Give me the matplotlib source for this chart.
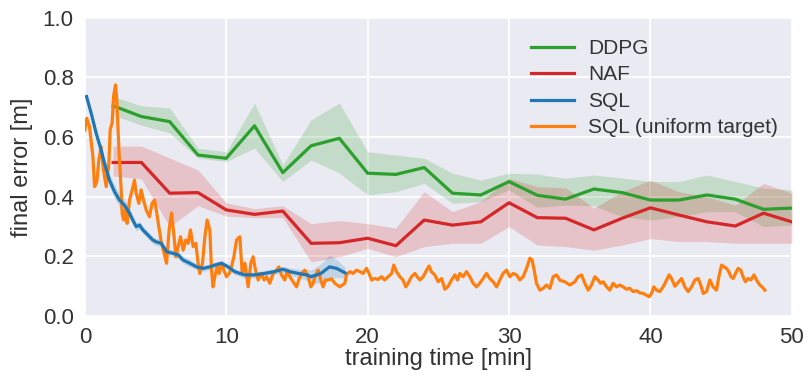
import matplotlib
matplotlib.use("Agg")
import matplotlib.pyplot as plt
import numpy as np

# ---------------- data ----------------
band_x = [2, 4, 6, 8, 10, 12, 14, 16, 18, 20, 22, 24, 26, 28, 30, 32, 34, 36, 38, 40, 42, 44, 46, 48, 50]

ddpg_mean = [0.705, 0.669, 0.652, 0.540, 0.529, 0.638, 0.481, 0.571, 0.596, 0.479, 0.475, 0.498, 0.412,
             0.406, 0.451, 0.405, 0.392, 0.426, 0.414, 0.389, 0.389, 0.406, 0.392, 0.358, 0.362]
ddpg_upper = [0.736, 0.705, 0.698, 0.563, 0.551, 0.714, 0.507, 0.658, 0.714, 0.551, 0.540, 0.529, 0.479,
              0.456, 0.479, 0.476, 0.462, 0.473, 0.463, 0.451, 0.451, 0.473, 0.451, 0.429, 0.423]
ddpg_lower = [0.674, 0.640, 0.614, 0.530, 0.518, 0.563, 0.451, 0.523, 0.480, 0.406, 0.417, 0.445, 0.378,
              0.383, 0.423, 0.365, 0.372, 0.370, 0.333, 0.322, 0.333, 0.350, 0.350, 0.300, 0.305]

naf_mean = [0.515, 0.515, 0.412, 0.414, 0.356, 0.341, 0.352, 0.244, 0.246, 0.261, 0.236, 0.322, 0.305,
            0.316, 0.380, 0.330, 0.328, 0.289, 0.328, 0.363, 0.339, 0.316, 0.302, 0.345, 0.316]
naf_upper = [0.570, 0.570, 0.530, 0.490, 0.380, 0.360, 0.370, 0.310, 0.320, 0.310, 0.295, 0.417, 0.350,
             0.384, 0.462, 0.434, 0.430, 0.362, 0.417, 0.456, 0.417, 0.400, 0.372, 0.445, 0.412]
naf_lower = [0.470, 0.460, 0.300, 0.370, 0.335, 0.330, 0.330, 0.182, 0.199, 0.227, 0.199, 0.233, 0.244,
             0.244, 0.300, 0.238, 0.233, 0.221, 0.238, 0.260, 0.250, 0.250, 0.244, 0.244, 0.244]

sql_x = [0.12, 0.45, 0.8, 1.15, 1.39, 1.74, 2.1, 2.45, 2.8, 3.16, 3.39, 3.63, 3.87, 4.1, 4.46, 4.81, 5.04,
         5.4, 5.78, 6.25, 6.6, 6.95, 7.43, 7.9, 8.37, 8.84, 9.19, 9.67, 10.13, 10.6, 10.96, 11.3, 12.0,
         12.7, 13.4, 14.0, 14.5, 15.1, 15.7, 16.0, 16.7, 17.3, 17.8, 18.4]
sql_mean = [0.736, 0.680, 0.613, 0.557, 0.512, 0.456, 0.417, 0.389, 0.372, 0.345, 0.322, 0.300, 0.305,
            0.289, 0.272, 0.255, 0.249, 0.244, 0.216, 0.210, 0.205, 0.188, 0.177, 0.165, 0.160, 0.165,
            0.171, 0.177, 0.165, 0.149, 0.143, 0.138, 0.138, 0.143, 0.149, 0.157, 0.149, 0.143, 0.138,
            0.132, 0.143, 0.165, 0.160, 0.145]
sql_spread = [0.010, 0.012, 0.015, 0.015, 0.018, 0.020, 0.022, 0.022, 0.020, 0.018, 0.015, 0.014, 0.012,
              0.012, 0.012, 0.012, 0.012, 0.012, 0.012, 0.012, 0.012, 0.012, 0.012, 0.010, 0.010, 0.010,
              0.010, 0.010, 0.010, 0.010, 0.010, 0.010, 0.010, 0.010, 0.010, 0.010, 0.012, 0.014, 0.018,
              0.022, 0.032, 0.040, 0.030, 0.018]

sqlu_x = [0.0, 0.14, 0.33, 0.57, 0.69, 0.85, 0.99, 1.15, 1.32, 1.51, 1.70, 1.79, 1.93, 2.03, 2.17, 2.26,
          2.40, 2.57, 2.64, 2.74, 2.88, 2.99, 3.16, 3.35, 3.51, 3.63, 3.82, 3.98, 4.15, 4.34, 4.57, 4.76,
          4.93, 5.09, 5.23, 5.40, 5.66, 5.78, 5.96, 6.13, 6.29, 6.44, 6.60, 6.77, 6.95, 7.14, 7.31, 7.47,
          7.66, 7.85, 8.01, 8.13, 8.32, 8.49, 8.65, 8.84, 8.96, 9.07, 9.19, 9.36, 9.50, 9.67, 9.83, 10.02,
          10.21, 10.37, 10.54, 10.73, 10.96, 11.13, 11.32, 11.55, 11.74, 11.9, 12.07, 12.26, 12.45, 12.68,
          12.85, 13.08, 13.32, 13.56, 13.72, 13.91, 14.14, 14.33, 14.5, 14.73, 14.97, 15.13, 15.33, 15.56,
          15.79, 15.98, 16.15, 16.27, 16.5, 16.69, 16.85, 17.02, 17.2, 17.45, 17.68, 18.03, 18.39, 18.5,
          18.74, 18.97, 19.2, 19.45, 19.68, 19.92, 20.1, 20.28, 20.5, 20.74, 20.98, 21.2, 21.45, 21.7,
          21.85, 22.04, 22.28, 22.5, 22.7, 22.86, 23.1, 23.34, 23.5, 23.7, 23.93, 24.17, 24.35, 24.5,
          24.75, 24.99, 25.23, 25.46, 25.7, 25.93, 26.17, 26.36, 26.52, 26.75, 26.99, 27.23, 27.46, 27.7,
          27.93, 28.17, 28.4, 28.64, 28.88, 29.12, 29.35, 29.58, 29.82, 30.06, 30.29, 30.53, 30.76, 31.0,
          31.24, 31.47, 31.63, 31.78, 31.94, 32.18, 32.41, 32.65, 32.89, 33.12, 33.36, 33.6, 33.95, 34.3,
          34.65, 34.89, 35.13, 35.36, 35.6, 35.83, 36.07, 36.3, 36.47, 36.66, 36.9, 37.13, 37.36, 37.6,
          37.83, 38.07, 38.31, 38.54, 38.78, 39.02, 39.25, 39.48, 39.72, 39.91, 40.08, 40.24, 40.43, 40.66,
          40.9, 41.14, 41.32, 41.49, 41.73, 41.96, 42.2, 42.43, 42.67, 42.91, 43.14, 43.37, 43.56, 43.73,
          43.97, 44.2, 44.43, 44.67, 44.84, 45.03, 45.21, 45.38, 45.54, 45.69, 45.85, 46.02, 46.2, 46.39,
          46.55, 46.72, 46.91, 47.1, 47.33, 47.5, 47.74, 47.9, 48.09]
sqlu_y = [0.624, 0.663, 0.635, 0.535, 0.434, 0.451, 0.523, 0.568, 0.490, 0.434, 0.512, 0.624, 0.647, 0.736,
          0.775, 0.725, 0.568, 0.423, 0.345, 0.322, 0.356, 0.311, 0.389, 0.423, 0.456, 0.412, 0.378, 0.423,
          0.389, 0.356, 0.333, 0.378, 0.389, 0.345, 0.300, 0.250, 0.199, 0.177, 0.289, 0.345, 0.277, 0.199,
          0.233, 0.266, 0.221, 0.255, 0.244, 0.289, 0.233, 0.244, 0.177, 0.143, 0.177, 0.266, 0.322, 0.289,
          0.154, 0.098, 0.132, 0.165, 0.143, 0.177, 0.154, 0.132, 0.143, 0.165, 0.199, 0.255, 0.266, 0.143,
          0.177, 0.098, 0.177, 0.199, 0.154, 0.121, 0.143, 0.121, 0.132, 0.110, 0.143, 0.154, 0.165, 0.138,
          0.121, 0.154, 0.132, 0.115, 0.098, 0.121, 0.143, 0.154, 0.132, 0.098, 0.110, 0.132, 0.154, 0.121,
          0.098, 0.121, 0.121, 0.125, 0.110, 0.098, 0.110, 0.138, 0.149, 0.143, 0.154, 0.149, 0.143, 0.160,
          0.143, 0.121, 0.126, 0.123, 0.132, 0.121, 0.132, 0.143, 0.171, 0.149, 0.132, 0.121, 0.098, 0.110,
          0.132, 0.143, 0.132, 0.121, 0.132, 0.154, 0.168, 0.149, 0.138, 0.115, 0.126, 0.090, 0.100, 0.121,
          0.138, 0.121, 0.143, 0.132, 0.149, 0.132, 0.110, 0.098, 0.110, 0.126, 0.143, 0.126, 0.115, 0.098,
          0.121, 0.143, 0.154, 0.132, 0.143, 0.138, 0.121, 0.132, 0.160, 0.194, 0.188, 0.154, 0.110, 0.087,
          0.093, 0.104, 0.093, 0.132, 0.138, 0.120, 0.115, 0.104, 0.115, 0.132, 0.138, 0.110, 0.087, 0.104,
          0.132, 0.121, 0.110, 0.115, 0.098, 0.087, 0.110, 0.098, 0.104, 0.098, 0.090, 0.093, 0.082, 0.085,
          0.078, 0.076, 0.070, 0.065, 0.076, 0.098, 0.087, 0.082, 0.098, 0.121, 0.138, 0.126, 0.100, 0.113,
          0.126, 0.098, 0.082, 0.098, 0.121, 0.126, 0.104, 0.076, 0.082, 0.121, 0.098, 0.087, 0.132, 0.171,
          0.165, 0.160, 0.149, 0.132, 0.126, 0.143, 0.160, 0.154, 0.132, 0.115, 0.126, 0.121, 0.138, 0.121,
          0.104, 0.098, 0.087]

labels = ["DDPG", "NAF", "SQL", "SQL (uniform target)"]
xticks = [0, 10, 20, 30, 40, 50]
yticks = [0.0, 0.2, 0.4, 0.6, 0.8, 1.0]

# ---------------- style ----------------
plt.rcParams["font.family"] = ["Liberation Sans", "DejaVu Sans"]

C_GREEN = "#2ca02c"
C_RED = "#d62728"
C_BLUE = "#1f77b4"
C_ORANGE = "#ff7f0e"
TXT = "#333333"

fig = plt.figure(figsize=(8.08, 3.79), dpi=100)
ax = fig.add_axes([0.105, 0.166, 0.875, 0.787])
ax.set_facecolor("#EAEAF2")
for s in ax.spines.values():
    s.set_visible(False)
ax.grid(True, color="white", linewidth=1.3)
ax.set_axisbelow(True)

lw = 2.3
ax.fill_between(band_x, ddpg_lower, ddpg_upper, color=C_GREEN, alpha=0.2, linewidth=0)
ax.fill_between(band_x, naf_lower, naf_upper, color=C_RED, alpha=0.2, linewidth=0)
sx = np.array(sql_x); sm = np.array(sql_mean); ss = np.array(sql_spread)
ax.fill_between(sx, sm - ss, sm + ss, color=C_BLUE, alpha=0.2, linewidth=0)

ax.plot(band_x, ddpg_mean, color=C_GREEN, lw=lw, label=labels[0])
ax.plot(band_x, naf_mean, color=C_RED, lw=lw, label=labels[1])
ax.plot(sql_x, sql_mean, color=C_BLUE, lw=lw, label=labels[2], zorder=3)
ax.plot(sqlu_x, sqlu_y, color=C_ORANGE, lw=lw, label=labels[3], zorder=2.5)

ax.set_xlim(0, 50)
ax.set_ylim(0, 1.0)
ax.set_xticks(xticks)
ax.set_yticks(yticks)
ax.set_yticklabels([f"{v:.1f}" for v in yticks])
ax.tick_params(length=0, pad=8, labelcolor=TXT, labelsize=16)
ax.set_xlabel("training time [min]", fontsize=17, color=TXT, labelpad=0)
ax.set_ylabel("final error [m]", fontsize=17, color=TXT, labelpad=7)

leg = ax.legend(loc="upper left", frameon=False, fontsize=15, handlelength=2.1,
                bbox_to_anchor=(0.604, 0.992), labelspacing=0.36, handletextpad=0.65)
for t in leg.get_texts():
    t.set_color(TXT)

fig.savefig("out.png", dpi=100)
